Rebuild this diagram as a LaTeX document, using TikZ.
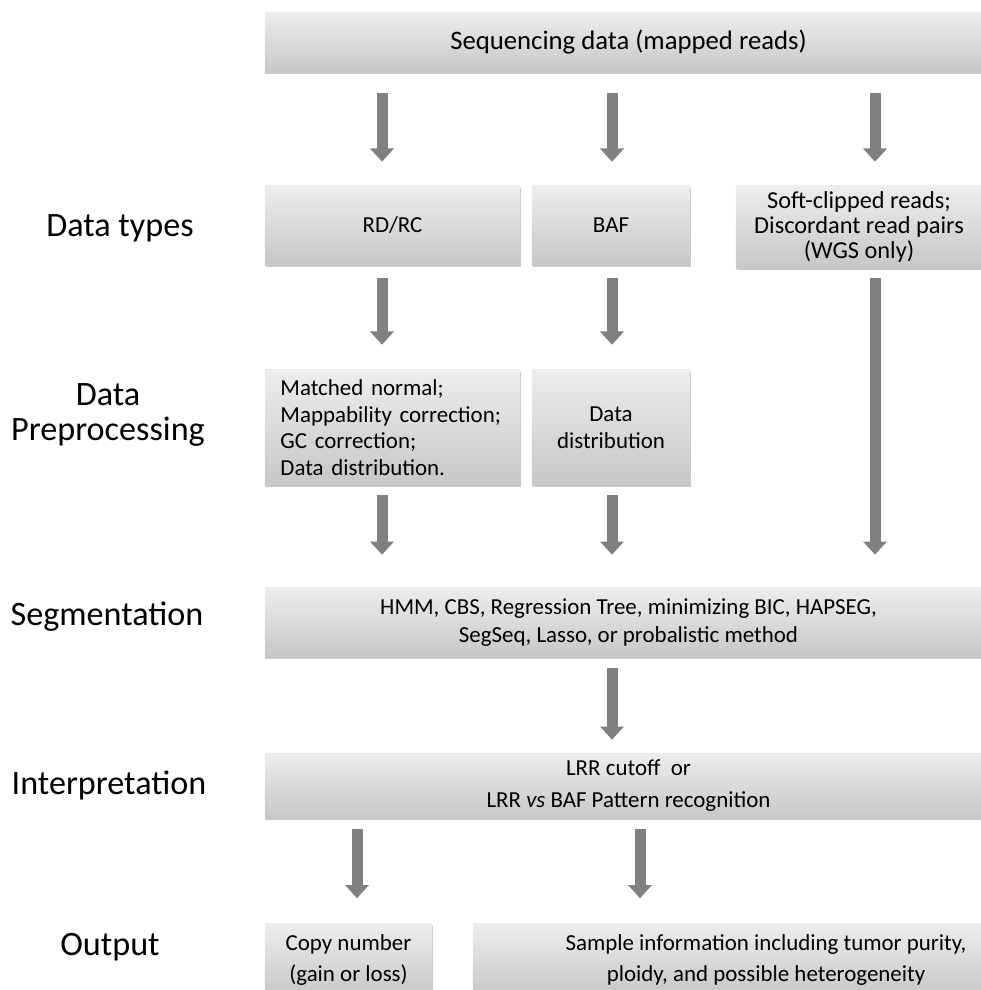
\documentclass[tikz,border=0pt]{standalone}
\usepackage{fontspec}
\setmainfont{Carlito}
\usepackage{tikz}
\usetikzlibrary{arrows.meta,positioning,shadows}

\begin{document}
\begin{tikzpicture}[x=0.025cm, y=-0.025cm,
  box/.style={top color=gray!14, bottom color=gray!44, draw=none, align=center,
    inner sep=2pt, font=\fontsize{16.3}{20.5}\selectfont,
    drop shadow={shadow xshift=0.4pt, shadow yshift=-1.6pt, opacity=0.35, fill=black!60}},
  arr/.style={-{Triangle[width=0.58cm, length=0.33cm]}, line width=0.275cm, draw=gray},
  lab/.style={align=center, font=\fontsize{24.3}{25}\selectfont}
]
\useasboundingbox (0,0) rectangle (980,990);
% boxes
\node[box, minimum width=18.175cm, minimum height=1.475cm, font=\fontsize{19}{22}\selectfont] (seq) at (628.5,42.5) {Sequencing data (mapped reads)};
\node[box, minimum width=6.375cm, minimum height=1.975cm] (rd) at (392.5,225.5) {RD/RC};
\node[box, minimum width=3.95cm, minimum height=1.975cm] (baf) at (611,225.5) {BAF};
\node[box, minimum width=6.15cm, minimum height=2.05cm, font=\fontsize{17.3}{17.8}\selectfont] (soft) at (859,227) {Soft-clipped reads;\\Discordant read pairs\\(WGS only)};
\node[box, minimum width=6.375cm, minimum height=2.875cm, align=left, text width=5.6cm, font=\fontsize{16.3}{19}\selectfont] (norm) at (392.5,427.5)
  {Matched normal;\\Mappability correction;\\GC correction;\\Data distribution.};
\node[box, minimum width=3.95cm, minimum height=2.875cm, font=\fontsize{16.3}{19}\selectfont] (dist) at (611,427.5) {Data\\distribution};
\node[box, minimum width=18.175cm, minimum height=1.725cm] (seg) at (628.5,622.5)
  {HMM, CBS, Regression Tree, minimizing BIC, HAPSEG,\\SegSeq, Lasso, or probalistic method};
\node[box, minimum width=18.175cm, minimum height=1.625cm, font=\fontsize{16.3}{22.5}\selectfont] (interp) at (628.5,785.5)
  {LRR cutoff~~or\\LRR \textit{vs} BAF Pattern recognition};
\node[box, minimum width=4.175cm, minimum height=1.825cm, font=\fontsize{16.3}{21.5}\selectfont] (copy) at (348.5,960) {Copy number\\(gain or loss)};
\node[box, minimum width=14.65cm, minimum height=1.825cm, font=\fontsize{16.3}{21.5}\selectfont] (sample) at (766,960)
  {Sample information including tumor purity,\\ploidy, and possible heterogeneity};
% row labels
\node[lab] (ltypes) at (120,228) {Data types};
\node[lab] (lpre) at (108,415) {Data\\Preprocessing};
\node[lab] (lseg) at (107,617) {Segmentation};
\node[lab] (lint) at (109,785) {Interpretation};
\node[lab] (lout) at (110,947) {Output};
% arrows
\coordinate (c1) at (382,0);
\coordinate (c2) at (612,0);
\coordinate (c3) at (875,0);
\coordinate (c4) at (357,0);
\coordinate (c5) at (640,0);
\draw[arr, shorten <=0.525cm, shorten >=0.6cm] (seq.south -| c1) -- (rd.north -| c1);
\draw[arr, shorten <=0.525cm, shorten >=0.6cm] (seq.south -| c2) -- (baf.north -| c2);
\draw[arr, shorten <=0.525cm, shorten >=0.6cm] (seq.south -| c3) -- (soft.north -| c3);
\draw[arr, shorten <=0.325cm, shorten >=0.625cm] (rd.south -| c1) -- (norm.north -| c1);
\draw[arr, shorten <=0.325cm, shorten >=0.625cm] (baf.south -| c2) -- (dist.north -| c2);
\draw[arr, shorten <=0.25cm, shorten >=0.825cm] (soft.south -| c3) -- (seg.north -| c3);
\draw[arr, shorten <=0.25cm, shorten >=0.825cm] (norm.south -| c1) -- (seg.north -| c1);
\draw[arr, shorten <=0.25cm, shorten >=0.825cm] (dist.south -| c2) -- (seg.north -| c2);
\draw[arr, shorten <=0.275cm, shorten >=0.325cm] (seg.south -| c2) -- (interp.north -| c2);
\draw[arr, shorten <=0.275cm, shorten >=0.625cm] (interp.south -| c4) -- (copy.north -| c4);
\draw[arr, shorten <=0.275cm, shorten >=0.625cm] (interp.south -| c5) -- (sample.north -| c5);
\end{tikzpicture}
\end{document}
